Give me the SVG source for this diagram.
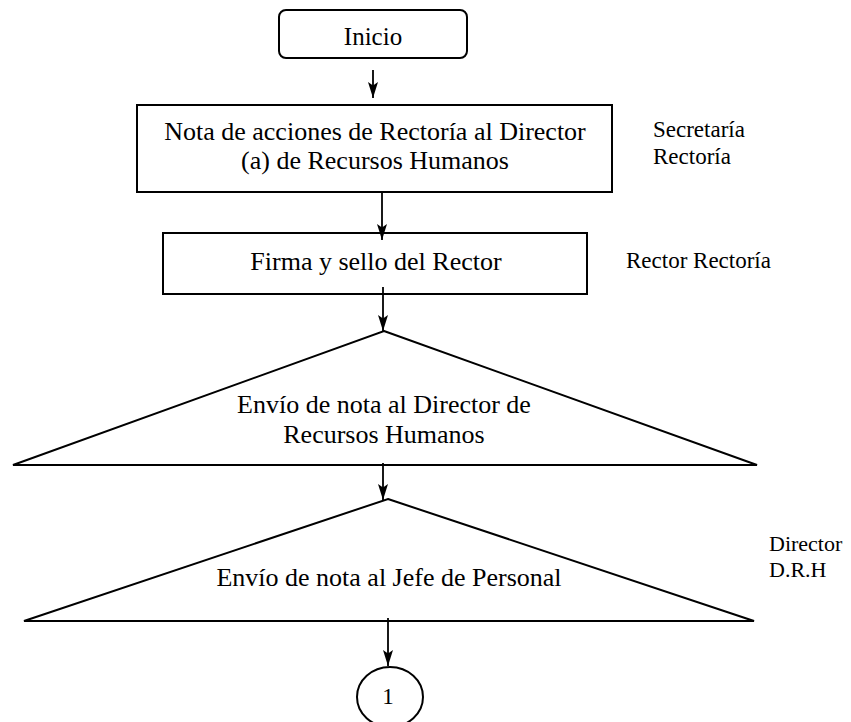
<svg xmlns="http://www.w3.org/2000/svg" width="851" height="722" viewBox="0 0 851 722">
<style>
.shape{fill:#fff;stroke:#000;stroke-width:2}
.conn{stroke:#000;stroke-width:1.8;fill:none}
.t{font-family:'Liberation Serif','DejaVu Serif',serif;font-size:26px;fill:#000;text-anchor:middle}
.lbl{font-family:'Liberation Serif','DejaVu Serif',serif;font-size:23px;fill:#000}
</style>
<defs>
<marker id="arr" markerWidth="17" markerHeight="11" refX="16" refY="5" orient="auto" markerUnits="userSpaceOnUse">
<path d="M0,0 L16,5 L0,10 L3.5,5 Z" fill="#000"/>
</marker>
</defs>
<rect width="851" height="722" fill="#fff"/>
<g id="inicio">
<rect class="shape" x="279" y="10" width="188" height="48" rx="7"/>
<text class="t" x="373" y="45" style="font-size:25px">Inicio</text>
</g>
<g id="nota">
<rect class="shape" x="137" y="105" width="475" height="87"/>
<text class="t" x="375" y="140">Nota de acciones de Rectoría al Director</text>
<text class="t" x="375" y="169">(a) de Recursos Humanos</text>
</g>
<g id="firma">
<rect class="shape" x="163" y="233" width="424" height="61"/>
<text class="t" x="376" y="270">Firma y sello del Rector</text>
</g>
<g id="envio1">
<polygon class="shape" points="384,331 757,465 13,465"/>
<text class="t" x="384" y="413">Envío de nota al Director de</text>
<text class="t" x="384" y="443">Recursos Humanos</text>
</g>
<g id="envio2">
<polygon class="shape" points="388,499 754,621 24,621"/>
<text class="t" x="389" y="586">Envío de nota al Jefe de Personal</text>
</g>
<g id="conector1">
<ellipse class="shape" cx="390" cy="697" rx="33" ry="30"/>
<text class="t" x="388" y="704" style="font-size:23px">1</text>
</g>
<g id="labels">
<text class="lbl" x="653" y="137">Secretaría</text>
<text class="lbl" x="653" y="164">Rectoría</text>
<text class="lbl" x="626" y="268">Rector Rectoría</text>
<text class="lbl" x="769" y="551" style="font-size:22px">Director</text>
<text class="lbl" x="769" y="577" style="font-size:22px">D.R.H</text>
</g>
<g id="connectors">
<line class="conn" x1="373" y1="70" x2="373" y2="98" marker-end="url(#arr)"/>
<line class="conn" x1="382" y1="192" x2="382" y2="240" marker-end="url(#arr)"/>
<line class="conn" x1="383" y1="287" x2="383" y2="331" marker-end="url(#arr)"/>
<line class="conn" x1="383" y1="463" x2="383" y2="500" marker-end="url(#arr)"/>
<line class="conn" x1="388" y1="618" x2="388" y2="666" marker-end="url(#arr)"/>
</g>
</svg>
